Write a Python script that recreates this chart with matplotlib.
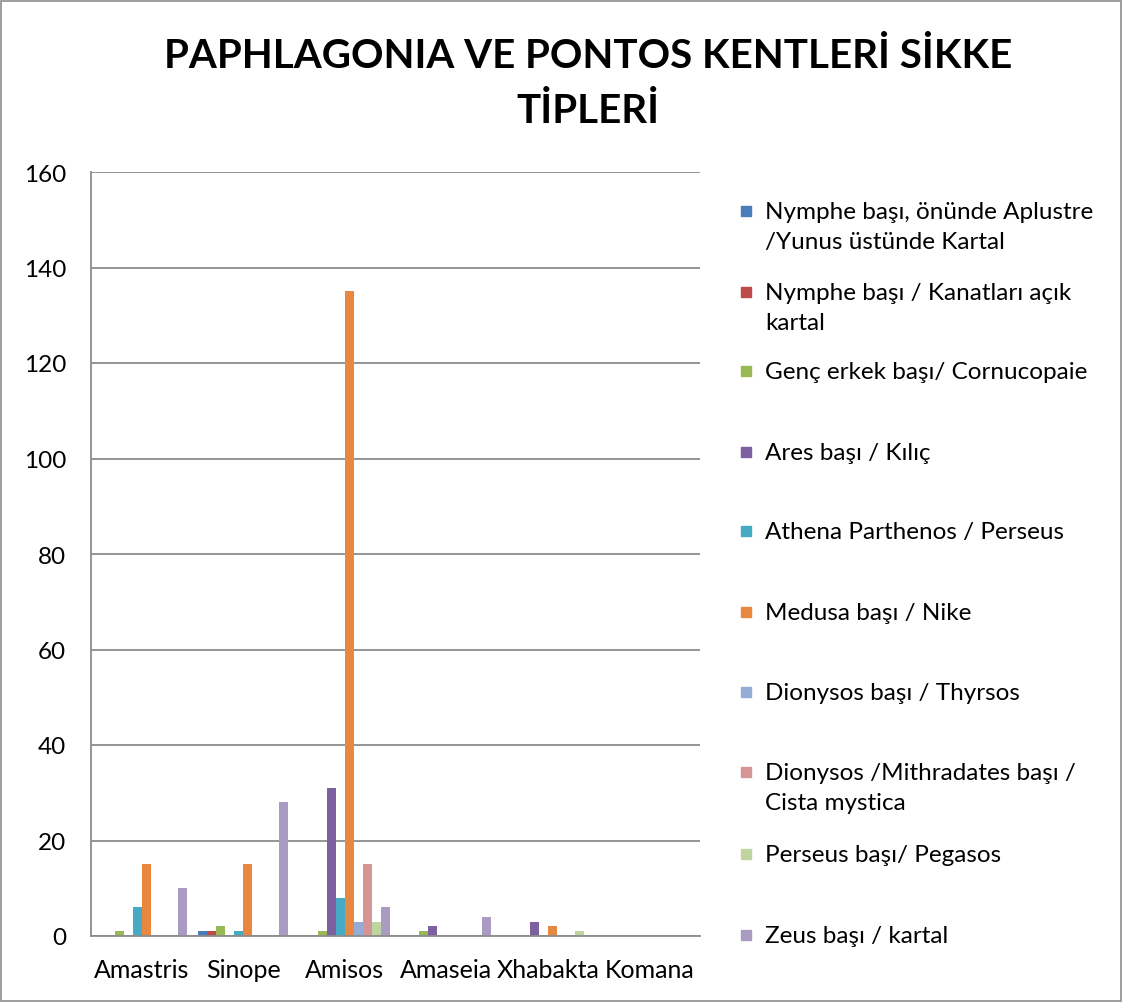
import matplotlib
matplotlib.use("Agg")
import matplotlib.pyplot as plt
import numpy as np
from matplotlib.patches import Rectangle

plt.rcParams['font.family'] = ['Lato', 'DejaVu Sans']

categories = ["Amastris", "Sinope", "Amisos", "Amaseia", "Xhabakta", "Komana"]
series_names = [
    "Nymphe başı, önünde Aplustre\n/Yunus üstünde Kartal",
    "Nymphe başı / Kanatları açık\nkartal",
    "Genç erkek başı/ Cornucopaie",
    "Ares başı / Kılıç",
    "Athena Parthenos / Perseus",
    "Medusa başı / Nike",
    "Dionysos başı / Thyrsos",
    "Dionysos /Mithradates başı /\nCista mystica",
    "Perseus başı/ Pegasos",
    "Zeus başı / kartal",
]
values = [
    [0, 1, 0, 0, 0, 0],
    [0, 1, 0, 0, 0, 0],
    [1, 2, 1, 1, 0, 0],
    [0, 0, 31, 2, 3, 0],
    [6, 1, 8, 0, 0, 0],
    [15, 15, 135, 0, 2, 0],
    [0, 0, 3, 0, 0, 0],
    [0, 0, 15, 0, 0, 0],
    [0, 0, 3, 0, 1, 0],
    [10, 28, 6, 4, 0, 0],
]
colors = ["#4A7EBB", "#BE4B48", "#98B954", "#7D60A0", "#46AAC5",
          "#E8873F", "#94ACD6", "#D69595", "#BFD5A0", "#A99BC2"]
yticks = [0, 20, 40, 60, 80, 100, 120, 140, 160]

W, H = 1123, 1003
fig = plt.figure(figsize=(W / 100, H / 100), dpi=100)
fig.patches.append(Rectangle((1 / W, 1 / H), 1 - 3 / W, 1 - 3 / H, transform=fig.transFigure,
                             fill=False, edgecolor="#8C8C8C", linewidth=1.2))

ax = fig.add_axes([91 / W, 66 / H, (700 - 91) / W, (937 - 173) / H])
n = len(series_names)
group = 0.885
bw = group / n
x = np.arange(len(categories))
for i, (name, vals, c) in enumerate(zip(series_names, values, colors)):
    ax.bar(x - group / 2 + bw * (i + 0.5), vals, width=bw, color=c, label=name,
           linewidth=0, zorder=3)

ax.set_xlim(-0.5, len(categories) - 0.5)
ax.set_ylim(0, 160)
ax.set_yticks(yticks)
ax.set_xticks(x)
ax.set_xticklabels(categories)
ax.tick_params(axis="both", length=0, colors="black")
ax.tick_params(axis="y", pad=18, labelsize=17.5)
ax.tick_params(axis="x", pad=16, labelsize=18)
ax.grid(axis="y", color="#8C8C8C", linewidth=1.3, zorder=0)
for s in ["top", "right"]:
    ax.spines[s].set_visible(False)
for s in ["left", "bottom"]:
    ax.spines[s].set_color("#8C8C8C")
    ax.spines[s].set_linewidth(1.3)
    ax.spines[s].set_zorder(4)

fig.text(588 / W, 1 - 84 / H, "PAPHLAGONIA VE PONTOS KENTLERİ SİKKE\nTİPLERİ",
         ha="center", va="center", fontsize=29, fontweight="bold", linespacing=1.6)

# legend
ys = [212, 293, 372, 453, 532, 613, 693, 773, 855, 936]
for name, c, yy in zip(series_names, colors, ys):
    fig.patches.append(Rectangle((741 / W, 1 - (yy + 5) / H), 10 / W, 10 / H,
                                 transform=fig.transFigure, color=c))
    fig.text(765 / W, 1 - (yy - 10) / H, name, ha="left", va="top",
             fontsize=17.5, linespacing=1.52)

fig.savefig("out.png", dpi=100)
